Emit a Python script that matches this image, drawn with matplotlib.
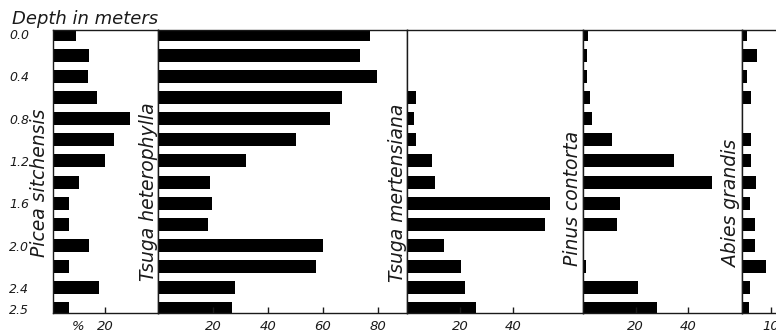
import matplotlib.pyplot as plt

# pollen percentages per sample (top = 0.0 m)
depths = [0.0, 0.2, 0.4, 0.6, 0.8, 1.0, 1.2, 1.4, 1.6, 1.8, 2.0, 2.2, 2.4, 2.5]
shown_depths = [0.0, 0.4, 0.8, 1.2, 1.6, 2.0, 2.4, 2.5]

species = ['Picea sitchensis', 'Tsuga heterophylla', 'Tsuga mertensiana',
           'Pinus contorta', 'Abies grandis']
picea = [9, 14, 13.5, 17, 29.5, 23.5, 20, 10, 6, 6, 14, 6, 17.5, 6]
tsuga_het = [77, 73.5, 79.5, 67, 62.5, 50, 32, 19, 19.5, 18, 60, 57.5, 28, 27]
tsuga_mert = [0, 0, 0, 3.5, 2.5, 3.5, 9.5, 10.5, 54, 52, 14, 20.5, 22, 26]
pinus = [2, 1.5, 1.5, 2.5, 3.5, 11, 34.5, 49, 14, 13, 0, 1, 21, 28]
abies = [1.7, 5.2, 1.7, 3.2, 0, 3.1, 3.1, 4.9, 2.9, 4.7, 4.7, 8.3, 2.9, 2.6]
series = [picea, tsuga_het, tsuga_mert, pinus, abies]
ticks = [[20], [20, 40, 60, 80], [20, 40], [20, 40], [10]]

W, H = 776, 333
fig = plt.figure(figsize=(W / 100, H / 100), dpi=100)

# panel edges in pixels, and pixels per percent for each panel
lefts = [53, 158, 407, 583, 742]
rights = [158, 407, 583, 742, 800]
scales = [2.6, 2.75, 2.65, 2.63, 2.85]
top_px, bot_px = 30, 313
label_x = [40, 148, 398, 573, 732]
label_y = [183, 192, 193, 198, 203]

rows = list(range(len(depths)))
ink = '#1a1a1a'

for i, vals in enumerate(series):
    l, r = lefts[i], rights[i]
    ax = fig.add_axes([l / W, 1 - bot_px / H, (r - l) / W, (bot_px - top_px) / H])
    ax.barh(rows, vals, height=0.62, color='black')
    ax.set_xlim(0, (r - l) / scales[i])
    ax.set_ylim(13.19, -0.19)
    ax.set_xticks(ticks[i])
    ax.tick_params(axis='x', direction='in', length=4, width=1, colors=ink,
                   labelsize=9.5, pad=5)
    for lab in ax.get_xticklabels():
        lab.set_style('italic')
    if i == 0:
        idx = [depths.index(d) for d in shown_depths]
        ax.set_yticks(idx)
        ax.set_yticklabels(['%.1f' % d for d in shown_depths],
                           style='italic', fontsize=9, color=ink)
        ax.tick_params(axis='y', length=0, pad=17)
    else:
        ax.set_yticks([])
    for s in ax.spines.values():
        s.set_linewidth(1.0)
        s.set_color(ink)
    fig.text(label_x[i] / W, 1 - label_y[i] / H, species[i], rotation=90,
             ha='center', va='center', style='italic', fontsize=13.5, color=ink)

fig.text(12 / W, 1 - 24 / H, 'Depth in meters', style='italic', fontsize=13,
         color=ink, va='baseline')
fig.text(78 / W, 1 - 326 / H, '%', style='italic', fontsize=9.5, color=ink,
         ha='center', va='center')

fig.savefig('out.png', dpi=100)
